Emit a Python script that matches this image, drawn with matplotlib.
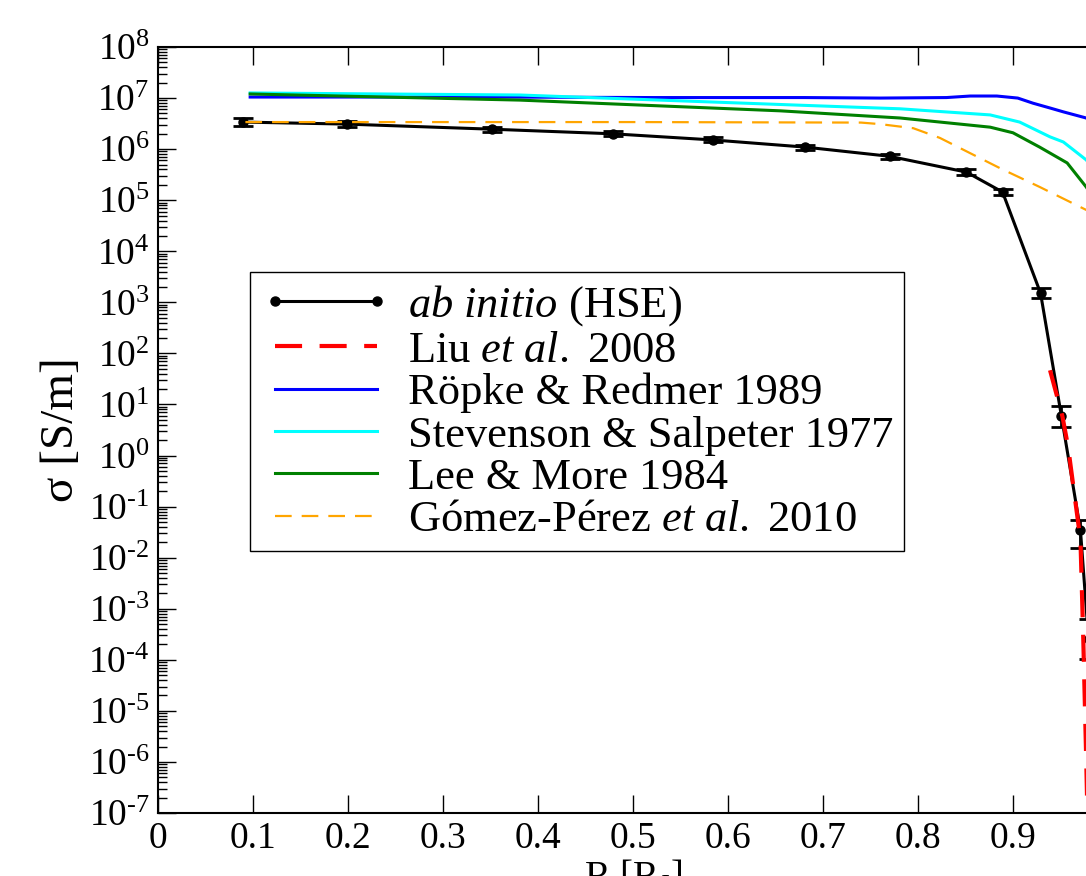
import numpy as np
import matplotlib
matplotlib.use('Agg')
import matplotlib.pyplot as plt
from matplotlib.ticker import LogLocator, FixedLocator, FuncFormatter, NullLocator

# ab initio (HSE) points, log10(sigma) and asymmetric error in dex
r_hse = [0.089, 0.199, 0.352, 0.479, 0.584, 0.681, 0.770, 0.851, 0.889, 0.929, 0.951, 0.971, 0.9795]
log_hse = [6.53, 6.49, 6.39, 6.30, 6.18, 6.04, 5.86, 5.55, 5.16, 3.18, 0.77, -1.46, -3.60]
err_lo = [0.08, 0.06, 0.05, 0.05, 0.05, 0.05, 0.05, 0.06, 0.06, 0.10, 0.22, 0.35, 0.39]
err_hi = [0.08, 0.06, 0.05, 0.05, 0.05, 0.05, 0.05, 0.06, 0.06, 0.10, 0.20, 0.20, 0.39]

# Liu et al. 2008
r_liu = [0.939, 0.952, 0.958, 0.971, 0.974, 0.977, 0.979]
log_liu = [1.67, 0.77, 0.17, -1.65, -3.61, -5.9, -7.6]

# Ropke & Redmer 1989
r_rr = [0.097, 0.36, 0.52, 0.68, 0.76, 0.83, 0.855, 0.883, 0.905, 0.921, 0.94, 0.953, 0.977, 0.99]
log_rr = [7.02, 7.02, 7.01, 7.01, 7.00, 7.01, 7.04, 7.04, 7.00, 6.90, 6.80, 6.73, 6.61, 6.45]

# Stevenson & Salpeter 1977
r_ss = [0.097, 0.381, 0.676, 0.781, 0.876, 0.907, 0.939, 0.953, 0.977, 0.99]
log_ss = [7.10, 7.06, 6.86, 6.79, 6.67, 6.53, 6.24, 6.14, 5.79, 5.5]

# Lee & More 1984
r_lm = [0.097, 0.381, 0.655, 0.781, 0.876, 0.900, 0.928, 0.957, 0.977, 0.99]
log_lm = [7.08, 6.96, 6.75, 6.61, 6.43, 6.32, 6.04, 5.73, 5.26, 4.9]

# Gomez-Perez et al. 2010
r_gp = [0.092, 0.50, 0.74, 0.76, 0.795, 0.823, 0.855, 0.886, 0.928, 0.977, 0.99]
log_gp = [6.53, 6.53, 6.52, 6.49, 6.41, 6.22, 5.92, 5.63, 5.26, 4.81, 4.7]

xticks = [0, 0.1, 0.2, 0.3, 0.4, 0.5, 0.6, 0.7, 0.8, 0.9]

plt.rcParams['font.family'] = 'Liberation Serif'
plt.rcParams['mathtext.fontset'] = 'custom'
plt.rcParams['mathtext.rm'] = 'Liberation Serif'
plt.rcParams['mathtext.it'] = 'Liberation Serif:italic'
plt.rcParams['axes.unicode_minus'] = False

fig = plt.figure(figsize=(10.86, 8.76), dpi=100)
# axes run to R = 1.0, which lies past the right edge of the picture
ax = fig.add_axes([158 / 1086, 1 - 813 / 876, 950 / 1086, 766 / 876])

sig = 10 ** np.array(log_hse)
lo = sig - 10 ** (np.array(log_hse) - np.array(err_lo))
hi = 10 ** (np.array(log_hse) + np.array(err_hi)) - sig

h_hse, = ax.plot(r_hse, sig, '-o', color='black', lw=2.2, ms=6.5, zorder=3)
ax.errorbar(r_hse, sig, yerr=[lo, hi], fmt='none', ecolor='black',
            elinewidth=2.0, capsize=7, capthick=2.0, zorder=3)
h_liu, = ax.plot(r_liu, 10 ** np.array(log_liu), color='red', lw=3.0,
                 dashes=(6.5, 4.2), zorder=4)
h_rr, = ax.plot(r_rr, 10 ** np.array(log_rr), color='blue', lw=2.2, zorder=2)
h_ss, = ax.plot(r_ss, 10 ** np.array(log_ss), color='cyan', lw=2.2, zorder=2)
h_lm, = ax.plot(r_lm, 10 ** np.array(log_lm), color='green', lw=2.2, zorder=2)
h_gp, = ax.plot(r_gp, 10 ** np.array(log_gp), color='orange', lw=1.6,
                dashes=(7.5, 4.5), zorder=4)

ax.set_xlim(0, 1.0)
ax.set_yscale('log')
ax.set_ylim(1e-7, 1e8)

ax.xaxis.set_major_locator(FixedLocator(xticks))
ax.xaxis.set_major_formatter(FuncFormatter(lambda v, p: '0' if v == 0 else '%.1f' % v))
ax.xaxis.set_minor_locator(NullLocator())
ax.yaxis.set_major_locator(LogLocator(base=10, numticks=30))
ax.yaxis.set_minor_locator(LogLocator(base=10, subs=np.arange(2, 10), numticks=30))


def yfmt(v, p):
    e = int(round(np.log10(v)))
    s = str(e).replace('-', '\u2010')
    return r'$\mathregular{10^{%s}}$' % s


ax.yaxis.set_major_formatter(FuncFormatter(yfmt))

ax.tick_params(which='both', direction='in', top=True, right=True,
               labelsize=27, width=1.0, pad=6)
ax.tick_params(which='major', length=13)
ax.tick_params(which='minor', length=6.5)
for s in ax.spines.values():
    s.set_linewidth(1.5)

ax.set_ylabel('σ [S/m]', fontsize=34, labelpad=4)
ax.set_xlabel(r'R [R$_\mathregular{J}$]', fontsize=28, labelpad=2)

leg = ax.legend([h_hse, h_liu, h_rr, h_ss, h_lm, h_gp],
                [r'$\mathit{ab\ initio}$ (HSE)',
                 r'Liu $\mathit{et\ al.}$ 2008',
                 'Röpke & Redmer 1989',
                 'Stevenson & Salpeter 1977',
                 'Lee & More 1984',
                 r'Gómez-Pérez $\mathit{et\ al.}$ 2010'],
                loc='upper left', bbox_to_anchor=(0.097, 0.706),
                fontsize=32, numpoints=2, handlelength=2.9, handletextpad=0.4,
                labelspacing=0.05, borderpad=0.25, borderaxespad=0,
                fancybox=False, framealpha=1, edgecolor='black')
leg.get_frame().set_linewidth(1.0)

fig.savefig('out.png', dpi=100)
